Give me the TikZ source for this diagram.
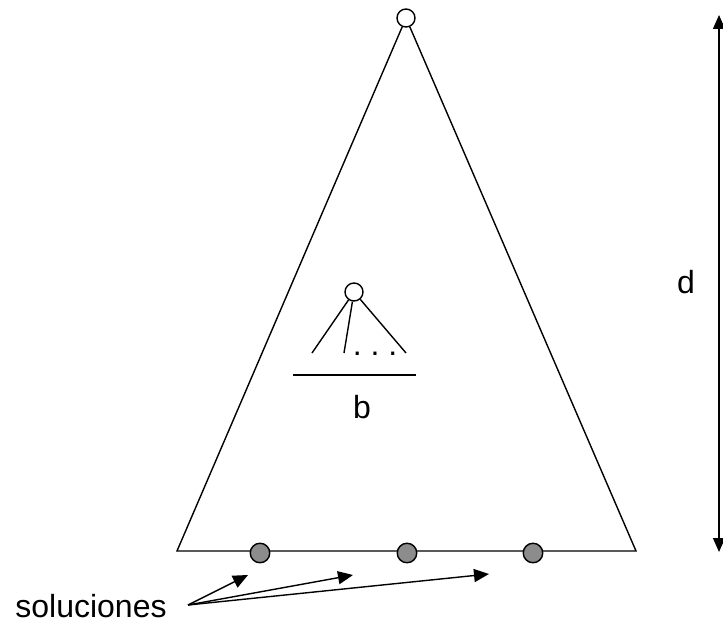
\documentclass[tikz,border=0pt]{standalone}
\usepackage{fontspec}
\setmainfont{Liberation Sans}
\usetikzlibrary{arrows.meta}
\begin{document}
\begin{tikzpicture}[x=1pt,y=-1pt,line width=1.4pt,
  opennode/.style={circle,draw,fill=white,inner sep=0pt,minimum size=18pt},
  solnode/.style={circle,draw,fill=black!45,inner sep=0pt,minimum size=19.5pt},
  lbl/.style={font=\fontsize{32pt}{32pt}\selectfont,inner sep=0pt,anchor=base},
  tip/.style={-{Triangle[length=15pt,width=13pt]}},
  dtip/.style={{Triangle[length=14pt,width=12pt]}-{Triangle[length=14pt,width=12pt]}}]
\useasboundingbox (0,0) rectangle (723,623);
% big triangle
\node[opennode] (top) at (406,18) {};
\coordinate (bl) at (177,551);
\coordinate (br) at (636,551);
\draw (top) -- (bl) -- (br) -- (top);
% solutions
\node[solnode] (s1) at (260,553) {};
\node[solnode] (s2) at (407,553) {};
\node[solnode] (s3) at (533,553) {};
% small tree
\node[opennode] (sub) at (354,292) {};
\coordinate (c1) at (312,353);
\coordinate (c2) at (344,353);
\coordinate (c3) at (406,353);
\draw (sub) -- (c1);
\draw (sub) -- (c2);
\draw (sub) -- (c3);
\node[lbl] (dots) at (375,355) {.\ .\ .};
\coordinate (h1) at (293,375);
\coordinate (h2) at (416,375);
\draw (h1) -- (h2);
\node[lbl] (b) at (362,418) {b};
% depth
\node[lbl] (d) at (686,293) {d};
\coordinate (vt) at (719,15);
\coordinate (vb) at (719,552);
\draw[dtip] (vt) -- (vb);
% soluciones
\node[lbl] (sol) at (91,617) {soluciones};
\coordinate (src) at (188,605);
\coordinate (a1) at (248,575);
\coordinate (a2) at (353,575);
\coordinate (a3) at (489,574);
\draw[tip] (src) -- (a1);
\draw[tip] (src) -- (a2);
\draw[tip] (src) -- (a3);
\end{tikzpicture}
\end{document}
